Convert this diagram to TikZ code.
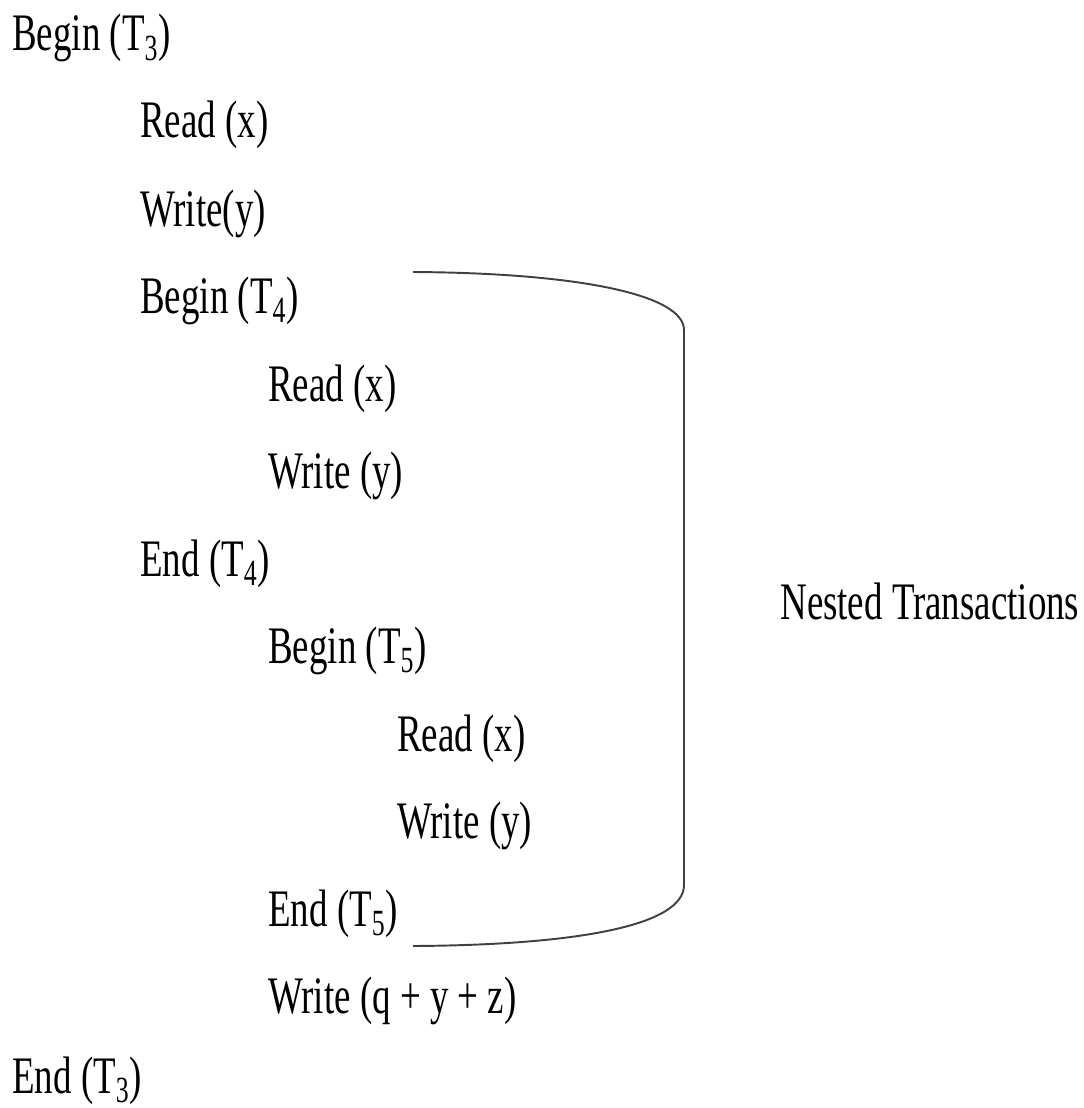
\documentclass[tikz,border=0pt]{standalone}
\usepackage{fontspec}
\setmainfont{Liberation Serif}[FakeStretch=0.7]
\usetikzlibrary{positioning}

\tikzset{
  stmt/.style={anchor=base west, inner sep=0pt, font=\fontsize{30}{30}\selectfont},
  brace/.style={line width=1.1pt, draw=black!75}
}

\begin{document}
\begin{tikzpicture}[x=0.02cm, y=-0.02cm]
  \useasboundingbox (0, 0) rectangle (1084, 1108);
  % outer transaction
  \node [stmt] (b3) at (12, 51) {Begin (T\textsubscript{3})};
  \node [stmt] (r3) at (140, 138) {Read (x)};
  \node [stmt] (w3) at (140, 226) {Write(y)};
  % first child
  \node [stmt] (b4) at (140, 313) {Begin (T\textsubscript{4})};
  \node [stmt] (r4) at (268, 401) {Read (x)};
  \node [stmt] (w4) at (268, 488) {Write (y)};
  \node [stmt] (e4) at (140, 576) {End (T\textsubscript{4})};
  % second child
  \node [stmt] (b5) at (268, 663) {Begin (T\textsubscript{5})};
  \node [stmt] (r5) at (397, 751) {Read (x)};
  \node [stmt] (w5) at (397, 838) {Write (y)};
  \node [stmt] (e5) at (268, 926) {End (T\textsubscript{5})};
  % back in the outer one
  \node [stmt] (wq) at (268, 1013) {Write (q + y + z)};
  \node [stmt] (e3) at (12, 1093) {End (T\textsubscript{3})};
  % bracket round the nested part
  \coordinate (top) at (413, 272);
  \coordinate (bot) at (413, 946);
  \draw [brace] (top) .. controls (580, 273) and (684, 295) .. (684, 330)
    -- (684, 885) .. controls (684, 925) and (580, 945) .. (bot);
  \node [stmt] (nest) at (780, 619) {Nested Transactions};
\end{tikzpicture}
\end{document}
